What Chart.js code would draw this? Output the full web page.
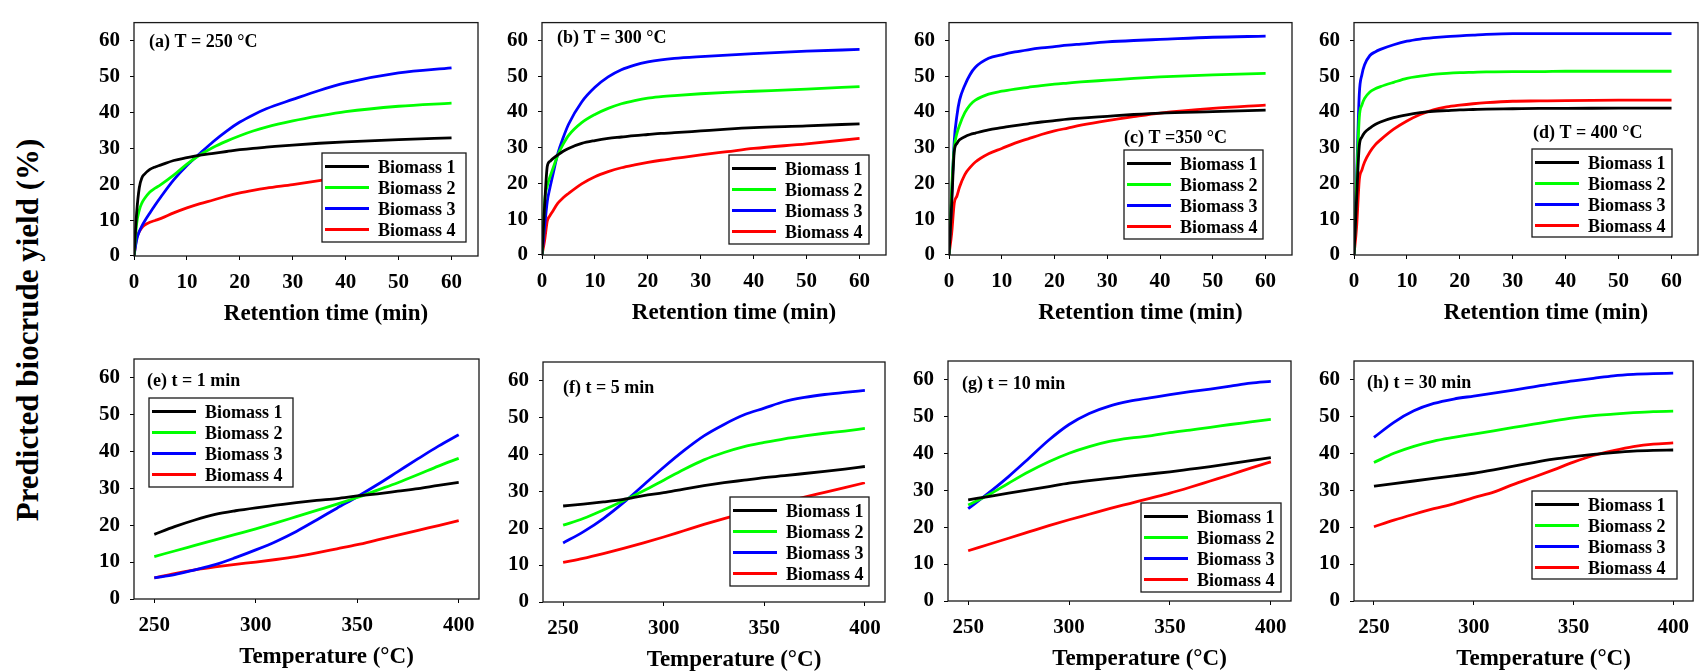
<!DOCTYPE html>
<html>
<head>
<meta charset="utf-8">
<script src="https://cdn.jsdelivr.net/npm/chart.js@4.4.1/dist/chart.umd.min.js"></script>
<style>
  html, body { margin: 0; padding: 0; background: #fff; }
  body { width: 1699px; height: 671px; position: relative; overflow: hidden; }
  canvas { position: absolute; left: 0; top: 0; }
  #ytitle {
    position: absolute; left: 27px; top: 330px;
    transform: translate(-50%, -50%) rotate(-90deg);
    font: bold 31px "Liberation Serif", "Times New Roman", serif;
    line-height: 1; white-space: nowrap; color: #000;
  }
</style>
</head>
<body>
<div id="ytitle">Predicted biocrude yield (%)</div>
<script>
// series
const seriesNames = ['Biomass 1', 'Biomass 2', 'Biomass 3', 'Biomass 4'];
const seriesColors = ['#000000', '#00ff00', '#0000ff', '#ff0000'];

// x values
const timeMin = [0, 0.5, 1, 1.5, 2, 3, 4, 5, 7.5, 10, 12.5, 15, 17.5, 20, 22.5, 25, 30, 35, 40, 50, 60];
const tempC = [250, 260, 270, 280, 290, 300, 310, 320, 330, 340, 350, 360, 370, 380, 390, 400];

// tick labels
const timeTicks = [0, 10, 20, 30, 40, 50, 60];
const tempTicks = [250, 300, 350, 400];
const yieldTicks = [0, 10, 20, 30, 40, 50, 60];

// (a)-(d): yield vs retention time, one row per biomass
const yieldT250 = [
  [0, 12, 19, 21.8, 22.8, 24.1, 24.8, 25.3, 26.6, 27.4, 28.1, 28.6, 29.1, 29.6, 30.0, 30.3, 30.9, 31.4, 31.8, 32.4, 32.9],
  [0, 9, 12.8, 14.8, 16, 17.8, 18.9, 19.8, 22.5, 25.6, 28.2, 30.3, 32.0, 33.5, 34.8, 35.9, 37.6, 39.0, 40.2, 41.7, 42.6],
  [0, 4.5, 6.8, 8.4, 9.7, 12, 14.2, 16.3, 21.2, 25.2, 28.6, 31.9, 34.8, 37.3, 39.3, 41.0, 43.6, 46.1, 48.2, 51.0, 52.4],
  [0, 5, 6.8, 7.9, 8.6, 9.4, 9.9, 10.4, 12, 13.4, 14.6, 15.6, 16.7, 17.6, 18.3, 18.9, 19.9, 21.0, 22.0, 23.7, 25.2]
];
const yieldT300 = [
  [0, 14, 24.8, 26.2, 26.9, 28, 29, 29.8, 31.2, 32, 32.6, 33, 33.4, 33.7, 34.0, 34.2, 34.7, 35.2, 35.6, 36.1, 36.7],
  [0, 15, 19.4, 21.8, 23.9, 28, 31, 33.4, 37, 39.3, 41, 42.3, 43.2, 43.9, 44.3, 44.6, 45.1, 45.5, 45.8, 46.4, 47.1],
  [0, 8, 15, 18.8, 22.1, 28.4, 32.8, 36.5, 42.8, 46.9, 49.8, 51.8, 53.1, 54, 54.6, 55, 55.5, 55.9, 56.3, 57, 57.5],
  [0, 4.1, 9.5, 11, 12.2, 14.5, 16, 17.2, 19.9, 21.9, 23.3, 24.4, 25.2, 25.9, 26.5, 27, 28, 28.9, 29.8, 31.1, 32.6]
];
const yieldT350 = [
  [0, 14, 29, 31.2, 32.2, 33.1, 33.7, 34.1, 35, 35.6, 36.2, 36.7, 37.2, 37.6, 38.0, 38.3, 38.8, 39.3, 39.7, 40.1, 40.5],
  [0, 18, 30, 34, 36.3, 39.8, 42, 43.3, 45, 45.8, 46.4, 46.9, 47.4, 47.8, 48.1, 48.4, 48.9, 49.4, 49.8, 50.4, 50.8],
  [0, 16, 32, 39, 43.3, 47.5, 50.5, 52.5, 55, 56, 56.8, 57.4, 57.9, 58.3, 58.7, 59, 59.6, 60.0, 60.3, 60.9, 61.2],
  [0, 6, 14.5, 16.5, 19, 22.5, 24.5, 26, 28.3, 29.8, 31.3, 32.5, 33.7, 34.7, 35.5, 36.3, 37.6, 38.7, 39.7, 41, 41.9]
];
const yieldT400 = [
  [0, 16, 30.5, 33, 34.2, 35.5, 36.5, 37.2, 38.4, 39.2, 39.8, 40.2, 40.4, 40.6, 40.7, 40.8, 40.9, 41, 41, 41.1, 41.1],
  [0, 20, 38.5, 42, 43.8, 45.6, 46.5, 47.1, 48.3, 49.4, 50, 50.5, 50.8, 51, 51.1, 51.2, 51.3, 51.3, 51.4, 51.4, 51.4],
  [0, 22, 45, 50.5, 53.2, 55.8, 56.8, 57.5, 58.8, 59.8, 60.4, 60.8, 61.1, 61.3, 61.5, 61.7, 61.9, 61.9, 61.9, 61.9, 61.9],
  [0, 8, 21, 23.8, 26, 28.8, 30.8, 32.2, 35.2, 37.5, 39.3, 40.6, 41.4, 41.9, 42.3, 42.6, 43, 43.1, 43.2, 43.3, 43.3]
];

// (e)-(h): yield vs temperature
const yieldt1 = [
  [17.5, 19.6, 21.4, 22.9, 23.9, 24.7, 25.4, 26.1, 26.7, 27.2, 27.9, 28.5, 29.2, 29.9, 30.8, 31.6],
  [11.5, 13, 14.5, 16, 17.5, 19, 20.6, 22.3, 24, 25.7, 27.5, 29.5, 31.5, 33.7, 36, 38.1],
  [5.7, 6.6, 7.9, 9.3, 11.2, 13.3, 15.6, 18.3, 21.4, 24.6, 27.7, 31, 34.5, 38, 41.4, 44.5],
  [5.7, 6.9, 7.9, 8.7, 9.4, 10, 10.7, 11.5, 12.5, 13.6, 14.7, 16, 17.3, 18.6, 19.9, 21.2]
];
const yieldt5 = [
  [26, 26.5, 27.1, 27.8, 28.8, 29.6, 30.6, 31.5, 32.3, 33, 33.7, 34.2, 34.8, 35.4, 36, 36.7],
  [20.8, 22.6, 24.9, 27.4, 30.1, 33, 35.9, 38.5, 40.5, 42.1, 43.2, 44.2, 45, 45.7, 46.3, 47],
  [16, 19, 22.6, 26.9, 31.7, 36.5, 41, 45, 48.1, 50.7, 52.5, 54.3, 55.4, 56.2, 56.8, 57.3],
  [10.7, 11.8, 13.1, 14.5, 16, 17.6, 19.3, 21, 22.6, 24.1, 25.6, 27, 28.4, 29.7, 31, 32.3]
];
const yieldt10 = [
  [27.4, 28.3, 29.2, 30.1, 31, 31.9, 32.6, 33.2, 33.8, 34.4, 35, 35.7, 36.4, 37.2, 38, 38.8],
  [26, 28.7, 31.9, 35, 37.7, 40, 41.8, 43.2, 44.1, 44.7, 45.6, 46.3, 47, 47.8, 48.5, 49.2],
  [25, 29.2, 33.7, 38.6, 43.6, 47.8, 50.8, 52.8, 54.1, 55, 55.9, 56.7, 57.4, 58.2, 59, 59.5],
  [13.6, 15.3, 17, 18.7, 20.4, 22, 23.5, 25, 26.4, 27.8, 29.2, 30.8, 32.5, 34.2, 36, 37.7]
];
const yieldt30 = [
  [31.1, 31.8, 32.5, 33.2, 33.9, 34.6, 35.5, 36.5, 37.5, 38.4, 39.1, 39.7, 40.2, 40.6, 40.8, 40.9],
  [37.5, 40, 41.9, 43.3, 44.3, 45.2, 46.1, 47, 47.9, 48.8, 49.6, 50.2, 50.6, 51, 51.3, 51.4],
  [44.3, 48.4, 51.5, 53.5, 54.7, 55.5, 56.3, 57.1, 58, 58.9, 59.6, 60.3, 61, 61.4, 61.6, 61.7],
  [20.1, 21.9, 23.5, 25, 26.3, 28, 29.5, 31.6, 33.5, 35.5, 37.6, 39.4, 40.7, 41.8, 42.5, 42.8]
];

const FONT = '"Liberation Serif", "Times New Roman", serif';
const timeAxis = { min: 0, max: 65, ticks: timeTicks, title: 'Retention time (min)' };
const tempAxis = { min: 240, max: 410, ticks: tempTicks, title: 'Temperature (°C)' };

// box = plot frame [left, top, width, height]; legend = [left, top, width, height]
const panels = [
  { title: '(a) T = 250 °C', xs: timeMin, ys: yieldT250, axis: timeAxis, box: [134, 15, 344, 241], titleAt: [149, 46.5], legend: [322, 153, 144, 89] },
  { title: '(b) T = 300 °C', xs: timeMin, ys: yieldT300, axis: timeAxis, box: [542, 15, 344, 240], titleAt: [557, 43], legend: [729, 155, 140, 89] },
  { title: '(c) T =350 °C', xs: timeMin, ys: yieldT350, axis: timeAxis, box: [949, 15, 343, 240], titleAt: [1124, 142.5], legend: [1124, 150, 139, 89] },
  { title: '(d) T = 400 °C', xs: timeMin, ys: yieldT400, axis: timeAxis, box: [1354, 15, 344, 240], titleAt: [1533, 138], legend: [1532, 149, 140, 88] },
  { title: '(e) t = 1 min', xs: tempC, ys: yieldt1, axis: tempAxis, box: [134, 359, 345, 240], titleAt: [147, 386], legend: [149, 398, 144, 89] },
  { title: '(f) t = 5 min', xs: tempC, ys: yieldt5, axis: tempAxis, box: [543, 362, 342, 240], titleAt: [563, 393], legend: [730, 497, 139, 89] },
  { title: '(g) t = 10 min', xs: tempC, ys: yieldt10, axis: tempAxis, box: [948, 361, 343, 240], titleAt: [962, 389], legend: [1141, 503, 140, 89] },
  { title: '(h) t = 30 min', xs: tempC, ys: yieldt30, axis: tempAxis, box: [1354, 361, 344, 240], titleAt: [1367, 388], legend: [1532, 491, 145, 88] }
];

// frame, panel title, x-axis title and the boxed legend inside the plot
const panelDecor = {
  id: 'panelDecor',
  afterDraw(chart, args, opts) {
    const ctx = chart.ctx;
    const a = chart.chartArea;
    ctx.save();
    ctx.strokeStyle = '#1a1a1a';
    ctx.lineWidth = 1.3;
    ctx.strokeRect(a.left, a.top, a.right - a.left, a.bottom - a.top);

    ctx.fillStyle = '#000';
    ctx.textAlign = 'left';
    ctx.textBaseline = 'alphabetic';
    ctx.font = 'bold 18px ' + FONT;
    ctx.fillText(opts.title, opts.titleAt[0], opts.titleAt[1]);

    ctx.font = 'bold 23px ' + FONT;
    ctx.textAlign = 'center';
    ctx.fillText(opts.xTitle, (a.left + a.right) / 2 + 20, a.bottom + 64);

    const [lx, ly, lw, lh] = opts.legend;
    ctx.fillStyle = '#fff';
    ctx.fillRect(lx, ly, lw, lh);
    ctx.strokeStyle = '#1a1a1a';
    ctx.lineWidth = 1.3;
    ctx.strokeRect(lx, ly, lw, lh);
    ctx.font = 'bold 18px ' + FONT;
    ctx.textAlign = 'left';
    chart.data.datasets.forEach((ds, i) => {
      const ry = ly + 13.5 + i * 21;
      ctx.strokeStyle = ds.borderColor;
      ctx.lineWidth = 2.8;
      ctx.beginPath();
      ctx.moveTo(lx + 3, ry);
      ctx.lineTo(lx + 47, ry);
      ctx.stroke();
      ctx.fillStyle = '#000';
      ctx.fillText(ds.label, lx + 56, ry + 6);
    });
    ctx.restore();
  }
};

const tickFont = { family: FONT, size: 21, weight: 'bold' };

panels.forEach((p) => {
  const canvas = document.createElement('canvas');
  canvas.width = 1699;
  canvas.height = 671;
  document.body.appendChild(canvas);
  const [bx, by, bw, bh] = p.box;

  new Chart(canvas.getContext('2d'), {
    type: 'line',
    data: {
      datasets: p.ys.map((vals, i) => ({
        label: seriesNames[i],
        data: p.xs.map((x, j) => ({ x: x, y: vals[j] })),
        borderColor: seriesColors[i],
        borderWidth: 2.8,
        pointRadius: 0,
        fill: false,
        cubicInterpolationMode: 'monotone'
      }))
    },
    options: {
      responsive: false,
      animation: false,
      events: [],
      layout: {
        padding: { left: bx - 60, top: by, right: 1699 - bx - bw, bottom: 671 - by - bh - 50 }
      },
      plugins: {
        legend: { display: false },
        tooltip: { enabled: false },
        panelDecor: { title: p.title, titleAt: p.titleAt, xTitle: p.axis.title, legend: p.legend }
      },
      scales: {
        x: {
          type: 'linear',
          min: p.axis.min,
          max: p.axis.max,
          afterFit: (s) => { s.height = 50; },
          afterBuildTicks: (s) => { s.ticks = p.axis.ticks.map(v => ({ value: v })); },
          grid: { drawOnChartArea: false, color: '#000', tickLength: 4 },
          border: { display: false },
          ticks: { font: tickFont, color: '#000', padding: 10, maxRotation: 0, autoSkip: false }
        },
        y: {
          type: 'linear',
          min: 0,
          max: 65,
          afterFit: (s) => { s.width = 60; },
          afterBuildTicks: (s) => { s.ticks = yieldTicks.map(v => ({ value: v })); },
          grid: { drawOnChartArea: false, color: '#000', tickLength: 4 },
          border: { display: false },
          ticks: { font: tickFont, color: '#000', padding: 10, autoSkip: false }
        }
      }
    },
    plugins: [panelDecor]
  });
});
</script>
</body>
</html>
